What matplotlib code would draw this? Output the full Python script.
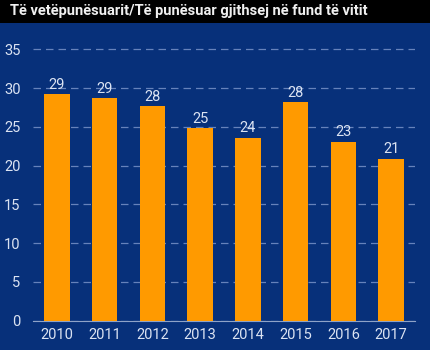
import matplotlib.pyplot as plt
import numpy as np

plt.rcParams['font.family'] = ['Roboto', 'DejaVu Sans']

# Self-employed share of total employed, end of year (%)
years = ['2010', '2011', '2012', '2013', '2014', '2015', '2016', '2017']
share = [29.2, 28.7, 27.7, 24.8, 23.6, 28.2, 23.1, 20.9]
yticks = [0, 5, 10, 15, 20, 25, 30, 35]

bg = '#07307a'
bar_color = '#ff9a00'
text_color = '#dbe3f2'
grid_color = '#6682bb'

fig = plt.figure(figsize=(4.3, 3.5), dpi=100, facecolor=bg)

# black title strip
fig.patches.append(plt.Rectangle((0, 1 - 23 / 350), 1, 23 / 350, transform=fig.transFigure,
                                 facecolor='black', edgecolor='none', zorder=0))
fig.text(10 / 430, 1 - 11.5 / 350, 'Të vetëpunësuarit/Të punësuar gjithsej në fund të vitit',
         color='#f0f0f0', fontsize=10.5, fontweight='bold', ha='left', va='center')

ax = fig.add_axes([33 / 430, 1 - 320.7 / 350, (415 - 33) / 430, (320.7 - 45.4) / 350])
ax.set_facecolor(bg)

x = np.arange(len(years))
ax.bar(x, share, width=0.53, color=bar_color, zorder=3)
for xi, v in zip(x, share):
    ax.text(xi, v + 0.3, f'{v:.0f}', ha='center', va='bottom', color=text_color,
            fontsize=10.5, zorder=4)

ax.set_xlim(-0.5, len(years) - 0.5)
ax.set_ylim(0, 35.5)
ax.set_xticks(x)
ax.set_xticklabels(years)
ax.set_yticks(yticks)

for s in ['top', 'right', 'left']:
    ax.spines[s].set_visible(False)
ax.spines['bottom'].set_color('#8fa3c8')
ax.spines['bottom'].set_linewidth(0.8)

ax.yaxis.grid(True, color=grid_color, linestyle=(0, (6, 4)), linewidth=0.9, zorder=0)
ax.set_axisbelow(True)
ax.tick_params(axis='both', length=0, colors=text_color, labelsize=10.5)
ax.tick_params(axis='y', pad=9)
ax.tick_params(axis='x', pad=5)

fig.savefig('out.png', dpi=100, facecolor=bg)
